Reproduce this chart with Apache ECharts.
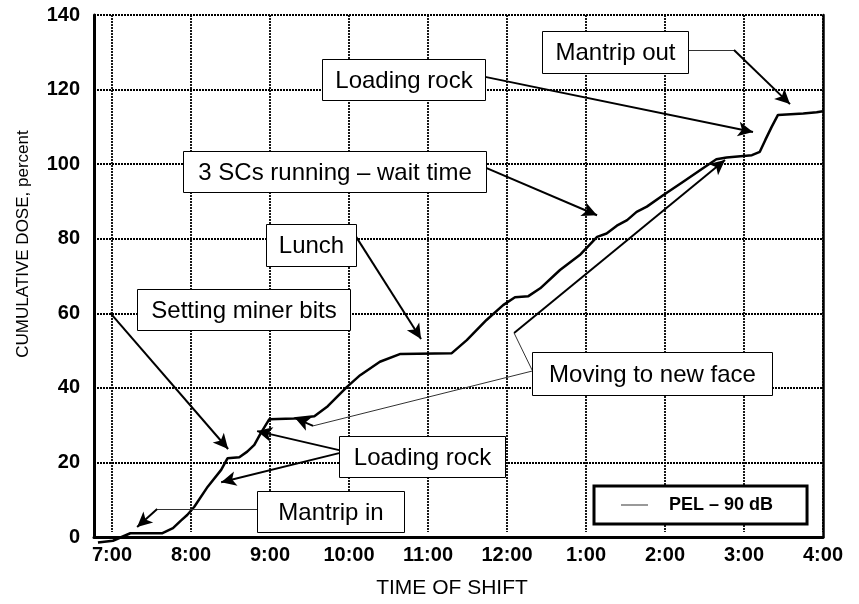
<!DOCTYPE html>
<html>
<head>
<meta charset="utf-8">
<script src="https://cdn.jsdelivr.net/npm/echarts@6/dist/echarts.min.js"></script>
<style>
html,body{margin:0;padding:0;background:#fff;}
#chart{width:859px;height:604px;}
</style>
</head>
<body>
<div id="chart"></div>
<script>
// ---- data (hours after 7:00 AM, cumulative dose %) ----
const hourLabels = ['7:00','8:00','9:00','10:00','11:00','12:00','1:00','2:00','3:00','4:00'];
const timeHours = [-0.18, 0.01, 0.23, 0.63, 0.77, 0.87, 0.95, 1.04, 1.21, 1.38, 1.46, 1.61, 1.71, 1.80, 1.88, 1.99,
  2.30, 2.56, 2.73, 2.97, 3.14, 3.39, 3.65, 4.30, 4.49, 4.74, 4.95, 5.10, 5.27, 5.42, 5.67, 5.92,
  6.14, 6.26, 6.39, 6.52, 6.64, 6.77, 6.98, 7.23, 7.48, 7.65, 7.78, 7.99, 8.10, 8.20, 8.27, 8.35, 8.43, 8.75, 8.92, 9.0];
const dosePercent = [-1.5, -1.0, 1.0, 1.0, 2.4, 4.4, 5.9, 8.1, 13.5, 18.0, 21.1, 21.4, 22.9, 24.7, 27.8, 31.6,
  31.8, 32.4, 35.1, 40.2, 43.4, 47.0, 49.1, 49.3, 52.8, 58.2, 62.2, 64.3, 64.6, 66.7, 71.6, 75.6,
  80.5, 81.4, 83.5, 85.0, 87.2, 88.6, 91.7, 95.3, 98.9, 101.3, 101.8, 102.2, 102.4, 103.3, 106.5, 110.0, 113.2, 113.6, 113.9, 114.2];
const seriesName = 'PEL \u2013 90 dB';
const annotationTexts = ['Loading rock', '3 SCs running \u2013 wait time', 'Mantrip out', 'Lunch',
  'Setting miner bits', 'Loading rock', 'Mantrip in', 'Moving to new face'];

// ---- annotation layout (data coordinates) ----
const boxAnchors = [[3.69,122.7],[2.816,98.0],[6.367,130.1],[2.519,78.3],[1.665,61.0],[3.924,21.6],[2.766,6.84],[6.835,43.8]];
const boxSizes = [[163,41],[303,41],[146,42],[90,42],[213,41],[166,41],[147,41],[240,43]];
// [from, to, arrowhead?, thin?]
const pointers = [
  [[4.722,123.4],[8.114,108.6],true,false],
  [[4.734,99.0],[6.139,86.3],true,false],
  [[7.291,130.6],[7.873,130.6],false,true],
  [[7.873,130.6],[8.582,116.1],true,false],
  [[3.089,80.5],[3.911,53.1],true,false],
  [[-0.025,60.1],[1.468,23.6],true,false],
  [[2.873,23.3],[1.835,28.4],true,false],
  [[2.873,22.5],[1.380,14.7],true,false],
  [[1.835,7.5],[0.57,7.5],false,true],
  [[0.57,7.5],[0.316,2.7],true,false],
  [[5.316,44.5],[2.544,29.8],false,true],
  [[2.544,29.8],[2.316,31.9],true,false],
  [[5.316,44.8],[5.089,54.7],false,true],
  [[5.089,54.7],[7.759,101.1],true,false]
];

const FONT = "'Liberation Sans', Arial, sans-serif";
const chart = echarts.init(document.getElementById('chart'), null, {renderer:'canvas'});

const lineData = timeHours.map((t,i)=>[t, dosePercent[i]]);
const markLineData = pointers.map(p => [
  {coord:p[0], symbol:'none', lineStyle:{color: p[3] ? '#333' : '#000', width: p[3] ? 1 : 2, type:'solid'}},
  {coord:p[1], symbol: p[2] ? 'arrow' : 'none'}
]);

const gridLine = {show:true, lineStyle:{color:'#000', width:1.8, type:[2,1]}};

chart.setOption({
  animation:false,
  backgroundColor:'#fff',
  grid:[
    {left:94, right:36, top:15, bottom:67},   // data grid (axis starts at 6:46)
    {left:112, right:36, top:15, bottom:67}   // hour grid (7:00 .. 4:00)
  ],
  legend:{
    data:[{name:seriesName, icon:'rect'}], left:594, top:486, orient:'horizontal',
    padding:[10,34,10,27], borderColor:'#000', borderWidth:3, backgroundColor:'#fff',
    itemWidth:27, itemHeight:1.2, itemStyle:{color:'#555'},
    textStyle:{fontFamily:FONT, fontWeight:'bold', fontSize:18, color:'#000', padding:[0,0,0,16], lineHeight:18}
  },
  xAxis:[{
    gridIndex:0, type:'value', min:-0.23, max:9,
    axisLine:{show:true, onZero:false, lineStyle:{color:'#000', width:3}},
    axisTick:{show:false}, axisLabel:{show:false}, splitLine:{show:false}, z:3
  },{
    gridIndex:1, type:'value', min:0, max:9, interval:1,
    name:'TIME OF SHIFT', nameLocation:'middle', nameGap:46,
    nameTextStyle:{fontFamily:FONT, fontSize:21, color:'#000', padding:[0,31,0,0]},
    axisLine:{show:false, onZero:false}, axisTick:{show:false},
    axisLabel:{fontFamily:FONT, fontWeight:'bold', fontSize:20, color:'#000', margin:13,
      formatter:function(v){return hourLabels[Math.round(v)]||'';}},
    splitLine:gridLine
  }],
  yAxis:[{
    gridIndex:0, type:'value', min:0, max:140, interval:20,
    name:'CUMULATIVE DOSE, percent', nameLocation:'middle', nameGap:62, nameRotate:90,
    nameTextStyle:{fontFamily:FONT, fontSize:17, color:'#000', padding:[0,0,0,64]},
    axisLine:{show:true, onZero:false, lineStyle:{color:'#000', width:3}},
    axisTick:{show:false},
    axisLabel:{fontFamily:FONT, fontWeight:'bold', fontSize:20, color:'#000', margin:14},
    splitLine:gridLine, z:3
  },{
    gridIndex:0, type:'value', min:0, max:140, interval:20, position:'right',
    axisLine:{show:true, onZero:false, lineStyle:{color:'#000', width:2.5}},
    axisTick:{show:false}, axisLabel:{show:false}, splitLine:{show:false}, z:3
  },{
    gridIndex:1, type:'value', min:0, max:140, show:false
  }],
  series:[{
    name:seriesName, type:'line', xAxisIndex:0, yAxisIndex:0, data:lineData, symbol:'none', clip:false,
    lineStyle:{color:'#000', width:2.5},
    itemStyle:{color:'#000'},
    z:4,
    markLine:{
      silent:true, symbol:['none','arrow'], symbolSize:[11,15],
      label:{show:false}, emphasis:{disabled:true},
      lineStyle:{color:'#000', width:2, type:'solid'},
      data:markLineData
    }
  }]
});

// annotation boxes: anchored in data space, snapped to whole pixels for crisp 1px borders
const graphics = [];
annotationTexts.forEach((txt,i)=>{
  const p = chart.convertToPixel({seriesIndex:0}, boxAnchors[i]);
  const w = boxSizes[i][0], h = boxSizes[i][1];
  const x0 = Math.round(p[0]-w/2)+0.5, y0 = Math.round(p[1]-h/2)+0.5;
  graphics.push({type:'rect', z:100, silent:true, shape:{x:x0, y:y0, width:w, height:h},
    style:{fill:'#fff', stroke:'#000', lineWidth:1}});
  graphics.push({type:'text', z:101, silent:true, x:x0+w/2, y:y0+h/2+1,
    style:{text:txt, fontSize:24, fontFamily:FONT, fill:'#000', align:'center', verticalAlign:'middle'}});
});
chart.setOption({graphic:graphics});
</script>
</body>
</html>
